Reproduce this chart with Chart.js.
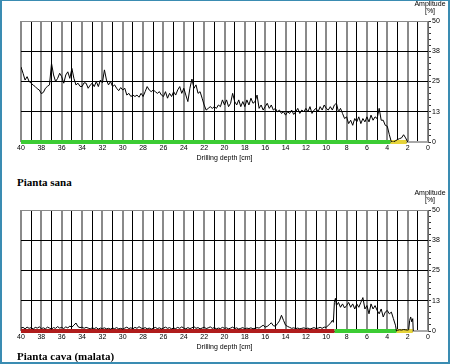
<!DOCTYPE html>
<html>
<head>
<meta charset="utf-8">
<script src="https://cdn.jsdelivr.net/npm/chart.js@4.4.1/dist/chart.umd.min.js"></script>
<style>
  body { margin: 0; background: #fff; }
  #wrap { position: relative; width: 450px; height: 364px; overflow: hidden; background: #fff; }
  #wrap canvas { position: absolute; left: 0; }
  .frame { position: absolute; left: 0; top: 0; width: 450px; height: 364px; box-sizing: border-box;
           border: 2px solid #3a8cb2; border-top-width: 1px; }
  .amp { position: absolute; left: 410px; width: 40px; text-align: center;
         font: 7px "Liberation Sans", Arial, sans-serif; line-height: 7px; color: #000; }
  .head { position: absolute; left: 17px; font-family: "Liberation Serif", "Times New Roman", serif;
          font-weight: bold; color: #000; white-space: nowrap; }
</style>
</head>
<body>
<div id="wrap">
  <canvas id="sana" width="450" height="165" style="top:0"></canvas>
  <canvas id="malata" width="450" height="165" style="top:189px"></canvas>
  <div class="amp" style="top:0">Amplitude<br>[%]</div>
  <div class="amp" style="top:189px">Amplitude<br>[%]</div>
  <div class="head" style="top:177px;font-size:11px;line-height:11px">Pianta sana</div>
  <div class="head" style="top:351px;font-size:11px;line-height:11px">Pianta cava (malata)</div>
  <div class="frame"></div>
</div>
<script>
// drilling depth (cm) and amplitude (%)
const depthSana = [
  40, 39.8, 39.6, 39.4, 39.2, 39, 38.8, 38.6, 38.4, 38.2,
  38, 37.8, 37.6, 37.4, 37.2, 37, 36.8, 36.6, 36.4, 36.2,
  36, 35.8, 35.6, 35.4, 35.2, 35, 34.8, 34.6, 34.4, 34.2,
  34, 33.8, 33.6, 33.4, 33.2, 33, 32.8, 32.6, 32.4, 32.2,
  32, 31.8, 31.6, 31.4, 31.2, 31, 30.8, 30.6, 30.4, 30.2,
  30, 29.8, 29.6, 29.4, 29.2, 29, 28.8, 28.6, 28.4, 28.2,
  28, 27.8, 27.6, 27.4, 27.2, 27, 26.8, 26.6, 26.4, 26.2,
  26, 25.8, 25.6, 25.4, 25.2, 25, 24.8, 24.6, 24.4, 24.2,
  24, 23.8, 23.6, 23.4, 23.2, 23, 22.8, 22.6, 22.4, 22.2,
  22, 21.8, 21.6, 21.4, 21.2, 21, 20.8, 20.6, 20.4, 20.2,
  20, 19.8, 19.6, 19.4, 19.2, 19, 18.8, 18.6, 18.4, 18.2,
  18, 17.8, 17.6, 17.4, 17.2, 17, 16.8, 16.6, 16.4, 16.2,
  16, 15.8, 15.6, 15.4, 15.2, 15, 14.8, 14.6, 14.4, 14.2,
  14, 13.8, 13.6, 13.4, 13.2, 13, 12.8, 12.6, 12.4, 12.2,
  12, 11.8, 11.6, 11.4, 11.2, 11, 10.8, 10.6, 10.4, 10.2,
  10, 9.8, 9.6, 9.4, 9.2, 9, 8.8, 8.6, 8.4, 8.2,
  8, 7.8, 7.6, 7.4, 7.2, 7, 6.8, 6.6, 6.4, 6.2,
  6, 5.8, 5.6, 5.4, 5.2, 5, 4.8, 4.6, 4.4, 4.2,
  4, 3.8, 3.6, 3.4, 3.2, 3, 2.8, 2.6, 2.4, 2.2,
  2
];
const ampSana = [
  31, 28.4, 25.6, 27, 25, 24.3, 23.5, 22.9, 22, 21.5,
  20, 20.5, 22.2, 23, 23.6, 32.5, 27.7, 25, 26.3, 28.4,
  27, 24.3, 27.7, 29, 26.3, 30.4, 26.3, 23.6, 24.3, 23,
  22.9, 24.5, 24.3, 22.2, 23.5, 24.3, 22.9, 25, 22.9, 25.6,
  24.5, 29.8, 25.6, 23.6, 25, 22.9, 23.6, 22.2, 21.2, 22.5,
  21.5, 22.2, 19.4, 20.1, 18.8, 19.4, 18.8, 19.4, 18.5, 20.1,
  18.8, 20.8, 22.9, 21.5, 20.8, 21.5, 20.8, 20.1, 20.8, 19.4,
  18.8, 20.8, 18.1, 20.1, 18.8, 20.8, 19.4, 21.5, 22.9, 20.1,
  22.2, 19.4, 16.7, 22.2, 26, 22.2, 23.6, 20.1, 20.8, 18.1,
  15.3, 13.2, 13.9, 14.6, 13.9, 14.6, 13.9, 15.3, 14.6, 17.4,
  15.3, 17.4, 14.6, 16, 20.1, 16.7, 15.3, 17.4, 14.6, 16.7,
  14.6, 17.4, 15.3, 18.1, 16, 16.7, 19.4, 13.9, 15.3, 13.2,
  14.6, 16, 13.9, 15.3, 13.2, 13.9, 12.5, 13.2, 11.8, 12.5,
  11.1, 12.5, 11.8, 13.2, 11.4, 12.5, 13.9, 11.8, 13.2, 12.5,
  13.9, 12.5, 14.6, 11.8, 13.2, 13.9, 12.5, 14.6, 13.2, 15.3,
  13.9, 13.2, 14.6, 13.2, 15.3, 16, 12.5, 13.9, 11.8, 9.7,
  10.4, 7.6, 9, 6.9, 9.7, 8.3, 10.4, 7.6, 9.7, 8.3,
  10.4, 8.3, 11.1, 9, 10.4, 9.7, 13.9, 9, 9, 6.9,
  6.5, 3, 0, 0, 0.5, 1, 1.4, 1.7, 3, 1.7,
  0
];

const depthMalata = [
  40, 39.8, 39.6, 39.4, 39.2, 39, 38.8, 38.6, 38.4, 38.2,
  38, 37.8, 37.6, 37.4, 37.2, 37, 36.8, 36.6, 36.4, 36.2,
  36, 35.8, 35.6, 35.4, 35.2, 35, 34.8, 34.6, 34.4, 34.2,
  34, 33.8, 33.6, 33.4, 33.2, 33, 32.8, 32.6, 32.4, 32.2,
  32, 31.8, 31.6, 31.4, 31.2, 31, 30.8, 30.6, 30.4, 30.2,
  30, 29.8, 29.6, 29.4, 29.2, 29, 28.8, 28.6, 28.4, 28.2,
  28, 27.8, 27.6, 27.4, 27.2, 27, 26.8, 26.6, 26.4, 26.2,
  26, 25.8, 25.6, 25.4, 25.2, 25, 24.8, 24.6, 24.4, 24.2,
  24, 23.8, 23.6, 23.4, 23.2, 23, 22.8, 22.6, 22.4, 22.2,
  22, 21.8, 21.6, 21.4, 21.2, 21, 20.8, 20.6, 20.4, 20.2,
  20, 19.8, 19.6, 19.4, 19.2, 19, 18.8, 18.6, 18.4, 18.2,
  18, 17.8, 17.6, 17.4, 17.2, 17, 16.8, 16.6, 16.4, 16.2,
  16, 15.8, 15.6, 15.4, 15.2, 15, 14.8, 14.6, 14.4, 14.2,
  14, 13.8, 13.6, 13.4, 13.2, 13, 12.8, 12.6, 12.4, 12.2,
  12, 11.8, 11.6, 11.4, 11.2, 11, 10.8, 10.6, 10.4, 10.2,
  10, 9.8, 9.6, 9.4, 9.3, 9.2, 9.1, 9,
  8.8, 8.6, 8.4, 8.2, 8, 7.8, 7.6, 7.4, 7.2,
  7, 6.8, 6.6, 6.4, 6.2, 6, 5.8, 5.6, 5.4, 5.2,
  5, 4.8, 4.6, 4.4, 4.2, 4, 3.8, 3.6, 3.4, 3.2,
  3.1, 3, 2.8, 2.6, 2.4, 2.2, 2, 1.9, 1.8, 1.7, 1.6, 1.5, 1.45
];
const ampMalata = [
  1.2, 1.5, 0.9, 1.6, 1.1, 1.4, 0.8, 1.5, 1.2, 1.7,
  1.0, 1.3, 0.9, 1.6, 1.2, 0.8, 1.4, 1.1, 1.8, 1.2,
  1.5, 1.0, 1.7, 1.3, 2.0, 1.6, 2.4, 3.3, 1.8, 1.4,
  1.6, 1.1, 1.5, 1.2, 0.9, 1.3, 1.0, 1.4, 0.8, 1.2,
  1.0, 1.3, 0.9, 1.1, 0.8, 1.2, 1.0, 1.4, 0.9, 1.1,
  0.8, 1.2, 1.6, 1.0, 1.3, 0.9, 1.5, 1.1, 1.8, 1.2,
  1.0, 1.4, 0.9, 1.2, 0.8, 1.1, 1.5, 1.0, 1.3, 0.9,
  1.2, 1.6, 1.1, 1.4, 0.9, 1.2, 1.0, 1.5, 1.1, 1.7,
  1.2, 0.9, 1.4, 1.0, 1.3, 1.8, 1.1, 1.4, 0.9, 1.2,
  1.6, 1.0, 1.3, 1.7, 1.1, 1.4, 0.9, 1.2, 1.0, 1.5,
  1.1, 1.3, 0.9, 1.2, 1.6, 1.0, 1.3, 0.8, 1.1, 1.4,
  0.9, 1.2, 1.0, 1.3, 0.9, 1.1, 1.4, 1.2, 1.8, 2.4,
  1.6, 1.9, 2.6, 3.4, 2.2, 2.0, 3.0, 4.2, 6.5, 4.4,
  2.4, 1.9, 1.5, 1.1, 1.3, 1.0, 1.2, 0.9, 1.1, 1.3,
  1.0, 1.2, 0.8, 1.1, 1.4, 1.0, 1.2, 1.5, 1.1, 1.6,
  1.5, 2.4, 3.1, 4.4, 3.6, 11.8, 13.5, 10.5,
  11.8, 9.8, 11.2, 9.5, 10.5, 11.8, 9.8, 11.2, 9.1,
  11.2, 9.8, 11.8, 13.8, 9.1, 10.5, 7.1, 11.2, 9.1, 10.5,
  8.5, 7.1, 9.1, 5.8, 7.8, 8.5, 7.1, 7.8, 5.1, 2.4,
  0, 0.3, 0.5, 0.4, 0.6, 0.5, 0.4, 0.5, 4.4, 5.8, 3.8, 5.1, 0
];

// quality bar along the depth axis: zone boundaries (cm)
const zonesSana = [40, 3.7, 2.1, 0];
const zonesMalata = [40, 9.2, 3.1, 1.5, 0];

const yTickValues = [0, 12.5, 25, 37.5, 50];
const yTickLabels = ['0', '13', '25', '38', '50'];

const zoneColor = { red: '#b01c1c', green: '#3ccc34', yellow: '#e6d43a', gray: '#a8a8a8' };

Chart.defaults.font.family = '"Liberation Sans", Arial, sans-serif';
Chart.defaults.font.size = 7;
Chart.defaults.color = '#000';

function makeChart(id, depths, amps, zones, colors) {
  const datasets = [{
    data: depths.map((d, i) => ({ x: d, y: amps[i] })),
    borderColor: '#000',
    borderWidth: 1,
    pointRadius: 0,
    tension: 0,
    order: 0
  }];
  for (let i = 0; i < zones.length - 1; i++) {
    const isGray = colors[i] === zoneColor.gray;
    datasets.push({
      data: [{ x: zones[i], y: 0 }, { x: zones[i + 1], y: 0 }],
      borderColor: colors[i],
      borderWidth: isGray ? 2 : 4,
      pointRadius: 0,
      clip: false,
      order: 1
    });
  }

  return new Chart(document.getElementById(id).getContext('2d'), {
    type: 'line',
    data: { datasets },
    options: {
      responsive: false,
      animation: false,
      devicePixelRatio: 1,
      layout: { padding: { left: 21, top: 21, right: 0, bottom: 0 } },
      plugins: { legend: { display: false }, tooltip: { enabled: false } },
      scales: {
        x: {
          type: 'linear',
          min: 0,
          max: 40,
          reverse: true,
          afterFit: (s) => { s.height = 23; },
          border: { display: false },
          grid: {
            drawTicks: false,
            color: (c) => (c.tick.value % 2 === 0 ? '#8a8a8a' : '#000'),
            lineWidth: (c) => (c.tick.value % 2 === 0 ? 2 : 1)
          },
          ticks: {
            stepSize: 1,
            autoSkip: false,
            maxRotation: 0,
            padding: 2,
            callback: (v) => (v % 2 === 0 ? String(v) : '')
          },
          title: {
            display: true,
            text: 'Drilling depth [cm]',
            font: { size: 7 },
            padding: { top: 0, bottom: 3 }
          }
        },
        y: {
          position: 'right',
          min: 0,
          max: 50,
          afterFit: (s) => { s.width = 22; },
          border: { display: true, color: '#666', width: 1 },
          grid: {
            tickLength: 3,
            tickColor: '#333',
            color: (c) => {
              const v = c.tick.value;
              if (!yTickValues.includes(v)) return 'rgba(0,0,0,0)';
              return v === 50 ? '#8a8a8a' : '#000';
            }
          },
          ticks: {
            stepSize: 2.5,
            autoSkip: false,
            padding: 1,
            callback: (v) => {
              const i = yTickValues.indexOf(v);
              return i >= 0 ? yTickLabels[i] : '';
            }
          }
        }
      }
    }
  });
}

makeChart('sana', depthSana, ampSana, zonesSana,
  [zoneColor.green, zoneColor.yellow, zoneColor.gray]);
makeChart('malata', depthMalata, ampMalata, zonesMalata,
  [zoneColor.red, zoneColor.green, zoneColor.yellow, zoneColor.gray]);
</script>
</body>
</html>
